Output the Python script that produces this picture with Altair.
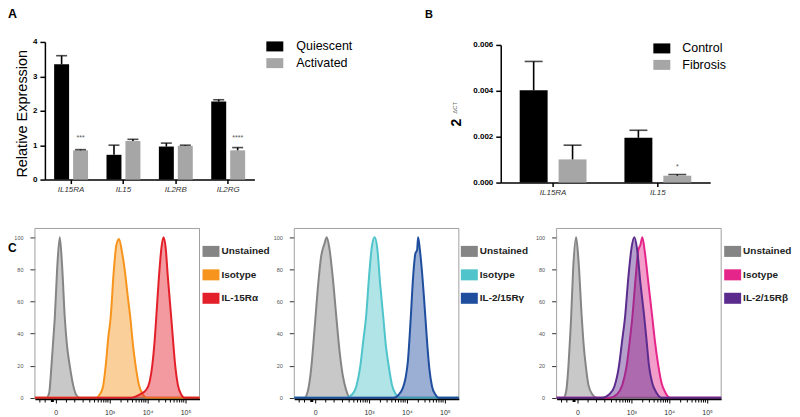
import altair as alt
import pandas as pd

FONT = "Liberation Sans"

# ---------------- Panel A data ----------------
a_genes = ["IL15RA", "IL15", "IL2RB", "IL2RG"]
a_groups = ["Quiescent", "Activated"]
a_quiescent = [3.35, 0.72, 0.96, 2.27]
a_quiescent_top = [3.60, 1.00, 1.06, 2.32]
a_activated = [0.85, 1.12, 0.98, 0.85]
a_activated_top = [0.87, 1.17, 1.00, 0.93]
a_sig_genes = ["IL15RA", "IL2RG"]
a_sig_labels = ["***", "****"]
a_sig_y = [1.22, 1.22]

# ---------------- Panel B data ----------------
b_genes = ["IL15RA", "IL15"]
b_groups = ["Control", "Fibrosis"]
b_control = [0.00402, 0.00195]
b_control_top = [0.00528, 0.00228]
b_fibrosis = [0.00101, 0.00030]
b_fibrosis_top = [0.00163, 0.00035]
b_sig_genes = ["IL15"]
b_sig_labels = ["*"]
b_sig_y = [0.00066]

# ---------------- Panel C data (flow histograms) ----------------
# x in display units: 0 -> 0, 10^3 -> 1.42, 10^4 -> 2.42, 10^5 -> 3.42
c_tick_values = [0, 1.42, 2.42, 3.42]
c_minor_ticks = [-0.42, -0.28, 0.28, 0.5,
                 0.721, 0.897, 1.022, 1.119, 1.198, 1.265, 1.323, 1.374,
                 1.721, 1.897, 2.022, 2.119, 2.198, 2.265, 2.323, 2.374,
                 2.721, 2.897, 3.022, 3.119, 3.198, 3.265, 3.323, 3.374]
c_marker_t = [-0.09]

c1_names = ["Unstained", "Isotype", "IL-15Rα"]
c1_unstained_t = [-0.55, -0.246, -0.175, -0.114, -0.070, -0.026, 0.035, 0.105, 0.167, 0.237, 0.298, 0.368, 0.456, 0.561, 0.649, 3.79]
c1_unstained_y = [0, 0, 3, 20, 35, 50, 80, 100, 82, 50, 32, 20, 8, 1, 0, 0]
c1_isotype_t = [-0.55, 1.070, 1.158, 1.246, 1.316, 1.386, 1.447, 1.526, 1.596, 1.667, 1.737, 1.816, 1.904, 1.965, 2.035, 2.105, 2.193, 2.298, 2.386, 3.79]
c1_isotype_y = [0, 0, 2, 7, 20, 38, 50, 78, 95, 99, 92, 80, 62, 50, 33, 20, 8, 2, 0, 0]
c1_stained_t = [-0.55, 1.991, 2.211, 2.386, 2.474, 2.544, 2.605, 2.649, 2.719, 2.789, 2.842, 2.895, 2.956, 3.044, 3.105, 3.149, 3.219, 3.307, 3.395, 3.79]
c1_stained_y = [0, 0, 2, 5, 10, 20, 35, 50, 75, 94, 100, 94, 75, 50, 32, 20, 8, 2, 0, 0]
c1_colors = ["#858585", "#f7941d", "#e3202a"]

c2_names = ["Unstained", "Isotype", "IL-2/15Rγ"]
c2_unstained_t = [-0.55, -0.281, -0.193, -0.105, -0.018, 0.070, 0.158, 0.246, 0.307, 0.377, 0.465, 0.553, 0.640, 0.728, 0.816, 0.921, 3.79]
c2_unstained_y = [0, 0, 4, 18, 42, 68, 88, 96, 100, 93, 75, 52, 30, 14, 5, 0, 0]
c2_isotype_t = [-0.55, 0.816, 0.974, 1.096, 1.193, 1.272, 1.342, 1.430, 1.5, 1.570, 1.640, 1.711, 1.798, 1.868, 1.939, 2.026, 2.132, 2.237, 3.79]
c2_isotype_y = [0, 0, 2, 8, 20, 36, 50, 78, 95, 100, 93, 72, 50, 32, 20, 8, 2, 0, 0]
c2_stained_t = [-0.55, 2.075, 2.206, 2.311, 2.382, 2.443, 2.522, 2.583, 2.645, 2.689, 2.715, 2.759, 2.820, 2.908, 2.961, 3.013, 3.083, 3.171, 3.259, 3.79]
c2_stained_y = [0, 0, 2, 6, 12, 22, 50, 75, 90, 92, 100, 93, 78, 50, 32, 18, 7, 2, 0, 0]
c2_colors = ["#858585", "#4fc4ca", "#1f4e9e"]

c3_names = ["Unstained", "Isotype", "IL-2/15Rβ"]
c3_unstained_t = [-0.55, -0.368, -0.298, -0.237, -0.193, -0.167, -0.114, -0.035, 0.026, 0.114, 0.167, 0.219, 0.289, 0.395, 0.509, 3.79]
c3_unstained_y = [0, 0, 4, 20, 38, 50, 80, 100, 86, 50, 32, 20, 8, 2, 0, 0]
c3_isotype_t = [-0.55, 0.860, 1.035, 1.184, 1.298, 1.377, 1.447, 1.535, 1.605, 1.658, 1.711, 1.781, 1.868, 1.974, 2.044, 2.132, 2.219, 2.325, 2.439, 3.79]
c3_isotype_y = [0, 0, 2, 8, 20, 35, 50, 75, 92, 95, 100, 90, 72, 50, 35, 20, 9, 3, 0, 0]
c3_stained_t = [-0.55, 0.658, 0.833, 0.974, 1.096, 1.175, 1.254, 1.342, 1.430, 1.5, 1.570, 1.658, 1.763, 1.825, 1.886, 1.974, 2.088, 2.219, 3.79]
c3_stained_y = [0, 0, 2, 7, 20, 35, 50, 75, 94, 100, 93, 72, 50, 35, 20, 9, 3, 0, 0]
c3_colors = ["#858585", "#e5258a", "#5b2c8e"]

# ---------------- layout (one drawing area; every panel gets its own scales) ----------------
W, H = 688, 357                     # drawing area, page origin at (35, 42)
RECT_A = "M-1,-0.59L1,-0.59L1,0.59L-1,0.59Z"
RECT_C = "M-1,-0.65L1,-0.65L1,0.65L-1,0.65Z"
one = pd.DataFrame({"k": [0]})


def label_text(txt, x, y, size, weight="bold", angle=0, color="black", align="left"):
    return alt.Chart(one).mark_text(text=txt, fontSize=size, fontWeight=weight, angle=angle,
                                    color=color, align=align, baseline="middle", font=FONT).encode(
        x=alt.value(x), y=alt.value(y))


def bar_panel(genes, groups, first, first_top, second, second_top, sig_genes, sig_labels, sig_y,
              x_range, y_range, ydomain, yvalues, yformat, ytitle, axis_extra, bar_w, half_gap, cap,
              legend_x, legend_y, legend_offset, legend_row):
    rows = []
    for i, g in enumerate(genes):
        rows.append({"gene": g, "group": groups[0], "value": first[i], "top": first_top[i]})
        rows.append({"gene": g, "group": groups[1], "value": second[i], "top": second_top[i]})
    df = pd.DataFrame(rows)
    sig = pd.DataFrame({"gene": sig_genes, "label": sig_labels, "value": sig_y})

    x_axis = alt.Axis(title=None, orient="bottom", offset=y_range[0] - H, labelAngle=0,
                      labelFontStyle="italic", labelFontSize=8, labelColor="#333333", tickSize=4,
                      tickColor="black", tickWidth=1.5, domainColor="black", domainWidth=1.5,
                      labelPadding=2, bandPosition=0.5)
    x = alt.X("gene:N", sort=genes,
              scale=alt.Scale(domain=genes, range=x_range, paddingInner=0, paddingOuter=0),
              axis=x_axis)
    y_scale = alt.Scale(domain=ydomain, range=y_range, nice=False, zero=True)
    y_axis = alt.Axis(values=yvalues, format=yformat, title=ytitle, orient="left", offset=-x_range[0],
                      grid=False, labelFontSize=8, labelFontWeight="bold", labelColor="black",
                      tickSize=5, tickColor="black", tickWidth=1.5, domainColor="black",
                      domainWidth=1.5, labelPadding=3, titleAngle=270, titleAlign="center",
                      titleBaseline="middle", titleColor="black", **axis_extra)
    y = alt.Y("value:Q", scale=y_scale, axis=y_axis)
    color = alt.Color("group:N", scale=alt.Scale(domain=groups, range=["#000000", "#a6a6a6"]),
                      legend=alt.Legend(title=None, orient="none", legendX=legend_x, legendY=legend_y,
                                        direction="vertical", symbolType=RECT_A, symbolSize=289,
                                        symbolStrokeWidth=0, symbolOpacity=1, labelFontSize=12.5,
                                        labelColor="black", labelOffset=legend_offset,
                                        rowPadding=legend_row, padding=0))
    layers = []
    for grp, off in zip(groups, [-half_gap, half_gap]):
        sub = alt.Chart(df).transform_filter(alt.datum.group == grp)
        layers.append(sub.mark_bar(width=bar_w, xOffset=off).encode(x=x, y=y, color=color))
    for grp, off in zip(groups, [-half_gap, half_gap]):
        sub = alt.Chart(df).transform_filter(alt.datum.group == grp)
        layers.append(sub.mark_rule(color="black", strokeWidth=1.6, xOffset=off).encode(
            x=x, y=y, y2="top:Q"))
        layers.append(sub.mark_tick(color="black", thickness=1.6, size=cap, xOffset=off).encode(
            x=x, y=alt.Y("top:Q", scale=y_scale, axis=y_axis)))
    layers.append(alt.Chart(sig).mark_text(fontSize=7, color="#555555", baseline="middle",
                                           dx=half_gap).encode(x=x, y=y, text="label:N"))
    return alt.layer(*layers)


# ---- Panel A ----  page x 45..255, y 41..179
panel_a = bar_panel(a_genes, a_groups, a_quiescent, a_quiescent_top, a_activated, a_activated_top,
                    a_sig_genes, a_sig_labels, a_sig_y, [10, 220], [137, -1], [0, 4],
                    [0, 1, 2, 3, 4], "d", "Relative Expression",
                    dict(titleX=-22, titleY=70.5, titleFontSize=14.5, titleFontWeight="normal"),
                    15, 9.5, 11, 232, -5, 13, 1.75)

# ---- Panel B ----  page x 502..712, y 44..182
panel_b = bar_panel(b_genes, b_groups, b_control, b_control_top, b_fibrosis, b_fibrosis_top,
                    b_sig_genes, b_sig_labels, b_sig_y, [467, 677], [140, 2], [0, 0.006],
                    [0, 0.002, 0.004, 0.006], ".3f", "2",
                    dict(titleX=-44, titleY=79.5, titleFontSize=14, titleFontWeight="bold"),
                    28, 19.5, 18, 620, -3, 12, 1.5)

# ---- Panel C ----
c_x_domain = [-0.55, 3.79]
c_y_domain = [-0.8, 105.5]
C_TOP = 186


def hist_panel(names, curves, colors, x0, legend_x):
    rows = []
    for name, (ts, ys) in zip(names, curves):
        for t, v in zip(ts, ys):
            rows.append({"series": name, "t": t, "y": v})
    df = pd.DataFrame(rows)
    x_scale = alt.Scale(domain=c_x_domain, range=[x0, x0 + 165], nice=False, zero=False)
    y_scale = alt.Scale(domain=c_y_domain, range=[H, C_TOP], nice=False, zero=False)
    x_axis = alt.Axis(values=c_tick_values, title=None, grid=False, orient="bottom", offset=0, zindex=1,
                      labelExpr="datum.value == 0 ? '0' : datum.value < 2 ? '10³' : datum.value < 3 ? '10⁴' : '10⁵'",
                      labelFontSize=7, labelColor="#333333", tickSize=4, tickColor="black",
                      tickWidth=1, domainColor="black", domainWidth=1.5, labelPadding=6)
    y_axis = alt.Axis(values=[0, 20, 40, 60, 80, 100], title=None, grid=False, domain=False,
                      orient="left", offset=-x0, labelFontSize=5.5, labelColor="#555555",
                      tickSize=5, tickColor="#333333", tickWidth=1, labelPadding=7)
    xs = alt.X("t:Q", scale=x_scale, axis=x_axis)
    ys = alt.Y("y:Q", scale=y_scale, axis=y_axis)
    color = alt.Color("series:N", scale=alt.Scale(domain=names, range=colors),
                      legend=alt.Legend(title=None, orient="none", legendX=legend_x,
                                        legendY=C_TOP + 14.5, direction="vertical",
                                        symbolType=RECT_C, symbolSize=289, symbolStrokeWidth=0,
                                        symbolOpacity=1, labelFontSize=10, labelFontWeight="bold",
                                        labelColor="#222222", labelOffset=2, rowPadding=8.5,
                                        padding=0))
    stroke = alt.Stroke("series:N", scale=alt.Scale(domain=names, range=colors), legend=None)
    frame = pd.DataFrame({"fx1": [c_x_domain[0]], "fx2": [c_x_domain[1]],
                          "fy1": [c_y_domain[0]], "fy2": [c_y_domain[1]]})
    layers = [alt.Chart(frame).mark_rect(filled=False, color="#a0a0a0", strokeWidth=1).encode(
        x=alt.X("fx1:Q", scale=x_scale, axis=x_axis), x2="fx2:Q",
        y=alt.Y("fy1:Q", scale=y_scale, axis=y_axis), y2="fy2:Q")]
    for name in names:
        sub = alt.Chart(df).transform_filter(alt.datum.series == name)
        layers.append(sub.mark_area(fillOpacity=0.45, interpolate="monotone").encode(x=xs, y=ys, color=color))
        layers.append(sub.mark_line(strokeWidth=2, interpolate="monotone").encode(x=xs, y=ys, stroke=stroke))
    layers.append(alt.Chart(pd.DataFrame({"t": c_minor_ticks})).mark_rule(color="black", strokeWidth=1).encode(
        x=xs, y=alt.value(H + 0.75), y2=alt.value(H + 3.5)))
    layers.append(alt.Chart(pd.DataFrame({"t": c_marker_t})).mark_square(size=9, color="black", opacity=1).encode(
        x=xs, y=alt.value(H + 1.5)))
    return alt.layer(*layers)


panel_c1 = hist_panel(c1_names, [(c1_unstained_t, c1_unstained_y), (c1_isotype_t, c1_isotype_y),
                                 (c1_stained_t, c1_stained_y)], c1_colors, 0, 168)
panel_c2 = hist_panel(c2_names, [(c2_unstained_t, c2_unstained_y), (c2_isotype_t, c2_isotype_y),
                                 (c2_stained_t, c2_stained_y)], c2_colors, 260, 427)
panel_c3 = hist_panel(c3_names, [(c3_unstained_t, c3_unstained_y), (c3_isotype_t, c3_isotype_y),
                                 (c3_stained_t, c3_stained_y)], c3_colors, 523, 691)

texts = [
    label_text("A", -27, -29, 12.5),
    label_text("B", 391, -28, 11),
    label_text("C", -27, 206, 12),
    label_text("ΔCT", 421.5, 65, 6, weight="normal", angle=270, color="#666666", align="center"),
    # invisible guide fixing the top edge of the drawing
    alt.Chart(one).mark_rule(color="white", strokeWidth=1).encode(
        x=alt.value(300), x2=alt.value(300), y=alt.value(-40), y2=alt.value(-39)),
]

chart = alt.layer(panel_a, panel_b, panel_c1, panel_c2, panel_c3, *texts).resolve_scale(
    x="independent", y="independent", color="independent", stroke="independent"
).resolve_axis(x="independent", y="independent").resolve_legend(
    color="independent", stroke="independent"
).properties(
    width=W, height=H, padding={"left": 0, "top": -6.5, "right": 0, "bottom": 0}
).configure(font=FONT).configure_view(stroke=None)

chart.save("out.html", embed_options={"renderer": "svg", "actions": False})
